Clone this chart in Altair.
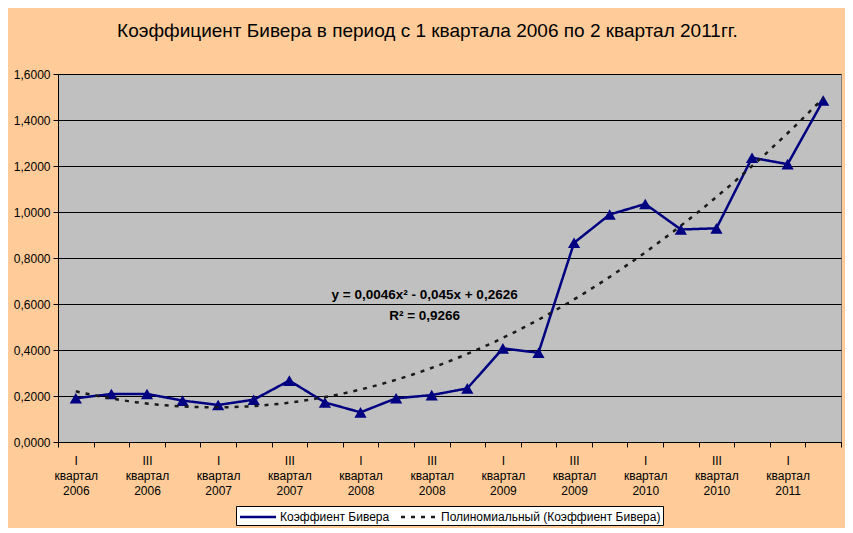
import altair as alt
import pandas as pd

# ---- data ----
quarters = ["I", "II", "III", "IV", "I", "II", "III", "IV", "I", "II", "III", "IV",
            "I", "II", "III", "IV", "I", "II", "III", "IV", "I", "II"]
years = ["2006", "2006", "2006", "2006", "2007", "2007", "2007", "2007",
         "2008", "2008", "2008", "2008", "2009", "2009", "2009", "2009",
         "2010", "2010", "2010", "2010", "2011", "2011"]
values = [0.190, 0.209, 0.209, 0.180, 0.161, 0.184, 0.267, 0.172,
          0.129, 0.190, 0.204, 0.233, 0.407, 0.388, 0.866, 0.989,
          1.035, 0.924, 0.929, 1.236, 1.208, 1.485]
word_quarter = "квартал"
series_name = "Коэффиент Бивера"
trend_name = "Полиномиальный (Коэффиент Бивера)"
title_text = "Коэффициент Бивера в период с 1 квартала 2006 по 2 квартал 2011гг."
equation_lines = ["y = 0,0046x² - 0,045x + 0,2626", "R² = 0,9266"]
equation_x = [10.8, 10.8]
equation_y = [0.640, 0.549]
y_ticks = [0.0, 0.2, 0.4, 0.6, 0.8, 1.0, 1.2, 1.4, 1.6]

n_periods = len(values)
df = pd.DataFrame({
    "n": list(range(1, n_periods + 1)),
    "value": values,
    "series": [series_name] * n_periods,
})
eq_df = pd.DataFrame({"n": equation_x, "value": equation_y, "t": equation_lines})

# every other category labelled (multi-line)
parts = []
for i, (q, yr) in enumerate(zip(quarters, years), start=1):
    if i % 2 == 1:
        parts.append(f"datum.value == {i} ? ['{q}', '{word_quarter}', '{yr}'] : ")
x_label_expr = "".join(parts) + "''"
y_label_expr = "replace(format(datum.value, '.4f'), '.', ',')"

FONT = "Liberation Sans"
NAVY = "#000080"

# category (band) axis: ticks on band edges, labels at band centres
x_band = alt.X(
    "n:O",
    scale=alt.Scale(type="band", paddingInner=0, paddingOuter=0),
    bandPosition=0.5,
    axis=alt.Axis(
        labelExpr=x_label_expr, grid=False, title=None, tickBand="extent",
        domainColor="black", tickColor="black", tickSize=5, labelAngle=0,
        labelFontSize=12, labelLineHeight=15, labelPadding=8,
        labelOverlap=False, labelColor="black",
    ),
)
# continuous position on the same pixel range, for the trend curve and text
x_num = alt.X(
    "n:Q",
    scale=alt.Scale(domain=[0.5, n_periods + 0.5], nice=False, zero=False),
    axis=None,
)
y_enc = alt.Y(
    "value:Q",
    scale=alt.Scale(domain=[0, 1.6], nice=False),
    axis=alt.Axis(
        values=y_ticks, labelExpr=y_label_expr, title=None,
        gridColor="black", gridWidth=1, gridOpacity=1,
        domainColor="black", tickColor="black", tickSize=5,
        labelFontSize=12, labelPadding=3, labelColor="black",
    ),
)

color_scale = alt.Scale(domain=[series_name, trend_name], range=[NAVY, "#1a1a1a"])
dash_scale = alt.Scale(domain=[series_name, trend_name], range=[[1, 0], [4, 6]])
legend = alt.Legend(
    title=None, orient="none", legendX=178, legendY=432, direction="horizontal",
    fillColor="white", strokeColor="black", padding=2,
    symbolType="M-2.4,0H2.4", symbolSize=225, symbolStrokeWidth=2.5,
    symbolOffset=11, labelOffset=13, labelLimit=400,
    labelFontSize=12, labelFont=FONT, labelColor="black", columnPadding=6,
)

base = alt.Chart(df)

line = base.mark_line(strokeWidth=2.5).encode(
    x=x_band, y=y_enc,
    color=alt.Color("series:N", scale=color_scale, legend=legend),
    strokeDash=alt.StrokeDash("series:N", scale=dash_scale, legend=legend),
)

points = base.mark_point(shape="triangle-up", filled=True, size=150,
                         color=NAVY, opacity=1).encode(x=x_band, y=y_enc)

trend = (
    base.transform_regression("n", "value", method="poly", order=2, extent=[1, n_periods])
    .transform_calculate(series=f"'{trend_name}'")
    .mark_line(strokeWidth=2.5)
    .encode(
        x=x_num, y=y_enc,
        color=alt.Color("series:N", scale=color_scale, legend=legend),
        strokeDash=alt.StrokeDash("series:N", scale=dash_scale, legend=legend),
    )
)

eq_text = alt.Chart(eq_df).mark_text(
    fontWeight="bold", fontSize=13.5, font=FONT, color="black"
).encode(x=x_num, y=y_enc, text="t:N")

chart = (
    alt.layer(alt.layer(line, points), trend, eq_text)
    .resolve_scale(x="independent")
    .properties(
        width=783, height=368,
        background="#FFCC99",
        padding={"left": 5, "top": 14, "right": 3, "bottom": 2},
        title=alt.Title(title_text, fontSize=19, font=FONT, fontWeight="normal",
                        color="black", offset=27, frame="bounds"),
    )
    .configure(font=FONT)
    .configure_view(fill="#C0C0C0", stroke="#808080", strokeWidth=1)
)

chart.save("out.html", embed_options={"renderer": "svg", "actions": False})
